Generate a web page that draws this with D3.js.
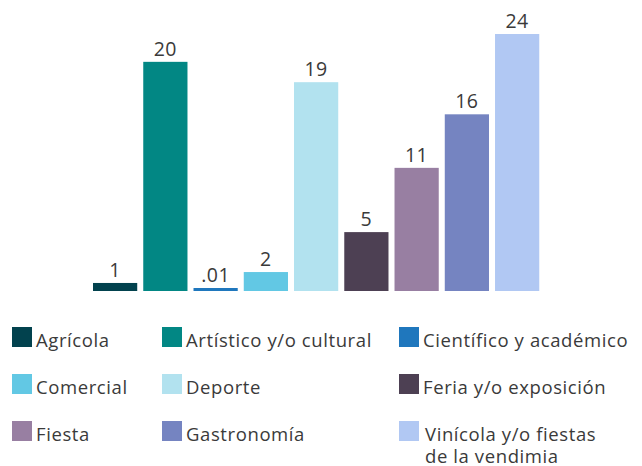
<!DOCTYPE html>
<html>
<head>
<meta charset="utf-8">
<script src="https://cdn.jsdelivr.net/npm/d3@7"></script>
<style>
  body { margin: 0; background: #fff; }
  text { font-family: "Open Sans", "Noto Sans", sans-serif; fill: #3a3a3a; }
</style>
</head>
<body>
<div id="chart"></div>
<script>
// categories, bar values and the printed labels
var categories = ["Agrícola", "Artístico y/o cultural", "Científico y académico",
  "Comercial", "Deporte", "Feria y/o exposición", "Fiesta", "Gastronomía",
  "Vinícola y/o fiestas\nde la vendimia"];
var values = [0.75, 21.4, 0.28, 1.77, 19.5, 5.5, 11.5, 16.5, 24];
var labels = ["1", "20", ".01", "2", "19", "5", "11", "16", "24"];
var colors = ["#02424e", "#028784", "#1f77bd", "#62c8e4", "#b2e2ef",
  "#4d4053", "#987fa2", "#7584c1", "#b1c8f3"];

var width = 642, height = 466;

var svg = d3.select("#chart").append("svg")
  .attr("width", width).attr("height", height);

var xBands = d3.scaleBand()
  .domain(categories)
  .range([93, 539.25])
  .paddingInner(0.12)
  .paddingOuter(0);

var yScale = d3.scaleLinear()
  .domain([0, 24])
  .range([291, 34]);

categories.forEach(function (c, i) {
  svg.append("rect")
    .attr("x", xBands(c))
    .attr("y", yScale(values[i]))
    .attr("width", xBands.bandwidth())
    .attr("height", yScale(0) - yScale(values[i]))
    .attr("fill", colors[i]);

  svg.append("text")
    .attr("x", xBands(c) + xBands.bandwidth() / 2)
    .attr("y", yScale(values[i]) - 6)
    .attr("text-anchor", "middle")
    .attr("font-size", 19.5)
    .attr("letter-spacing", 0.5)
    .text(labels[i]);
});

// legend, 3 columns
var colX = [12, 162, 399];
var rowY = [327, 374, 421];

categories.forEach(function (c, i) {
  var x = colX[i % 3], y = rowY[Math.floor(i / 3)];
  svg.append("rect")
    .attr("x", x).attr("y", y)
    .attr("width", 20).attr("height", 20)
    .attr("fill", colors[i]);

  var lines = c.split("\n");
  lines.forEach(function (line, j) {
    svg.append("text")
      .attr("x", lines.length > 1 ? x + 26 : x + 24)
      .attr("y", y + 19.5 + j * 22.3)
      .attr("font-size", 18.5)
      .attr("letter-spacing", 0.6)
      .text(line);
  });
});
</script>
</body>
</html>
